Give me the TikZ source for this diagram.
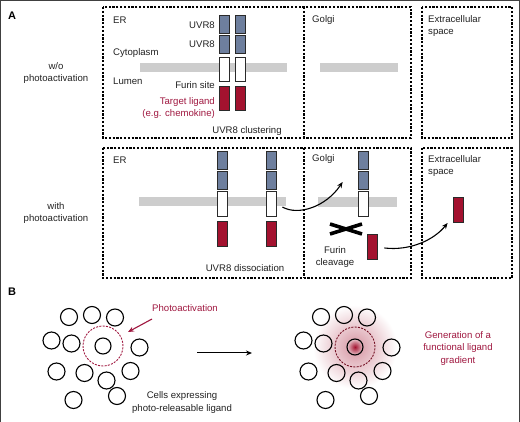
\documentclass[tikz,border=0pt]{standalone}
\usepackage{fontspec}
\setmainfont{Liberation Sans}
\usetikzlibrary{arrows.meta}
\definecolor{txtc}{HTML}{222222}
\definecolor{lred}{HTML}{A3122F}
\definecolor{tred}{HTML}{A01840}
\definecolor{ublue}{HTML}{6E7F9E}
\definecolor{mgray}{HTML}{CDCDCD}
\definecolor{edge}{HTML}{2A2A2A}
\tikzset{
  lbl/.style={font=\fontsize{9.6}{11.5}\selectfont, text=txtc, inner sep=0pt, align=center},
  rlbl/.style={lbl, text=tred},
  panel/.style={font=\fontsize{11}{12}\selectfont\bfseries, text=black, inner sep=0pt},
  dbox/.style={draw=black, line width=1.2pt, dash pattern=on 2.2pt off 1.6pt},
  memb/.style={fill=mgray, draw=none},
  blk/.style={draw=edge, line width=0.8pt, minimum width=10pt, inner sep=0pt},
  ublk/.style={blk, fill=ublue, minimum height=18pt},
  wblk/.style={blk, fill=white, minimum height=24pt},
  rblk/.style={blk, fill=lred, minimum height=24pt},
  arr/.style={draw=black, line width=1.1pt, -{Stealth[length=6pt,width=5pt]}},
  cell/.style={circle, draw=black, line width=1.1pt, minimum size=17pt, inner sep=0pt},
  ring/.style={circle, draw=tred, line width=0.9pt, dash pattern=on 2pt off 1.3pt, minimum size=40pt, inner sep=0pt},
}
\begin{document}
\begin{tikzpicture}[x=1pt,y=-1pt]
\useasboundingbox (0,0) rectangle (520,422);
\fill[white] (0,0) rectangle (520,422);
\draw[gray!50!black, line width=1pt] (0.5,422) -- (0.5,0.5) -- (519.5,0.5) -- (519.5,422);

% ---------- Panel A ----------
\node[panel] (pA) at (12,16) {A};

% boxes top row
\draw[dbox] (103,7) rectangle (411,138);
\draw[dbox] (304,7) -- (304,138);
\draw[dbox] (422,7) rectangle (512,138);
% boxes bottom row
\draw[dbox] (103,148) rectangle (411,278);
\draw[dbox] (304,148) -- (304,278);
\draw[dbox] (422,148) rectangle (512,278);

% row labels
\node[lbl] (wo) at (56,73) {w/o\\[1pt]photoactivation};
\node[lbl] (with) at (56,213) {with\\[1pt]photoactivation};

% membranes
\fill[memb] (140,63) rectangle (287,72);
\fill[memb] (320,63) rectangle (398,72);
\fill[memb] (139,197) rectangle (286,206);
\fill[memb] (318,197) rectangle (397,207);

% top row labels
\node[lbl, anchor=west] (er1) at (113,20) {ER};
\node[lbl, anchor=west] (cyt) at (113,53) {Cytoplasm};
\node[lbl, anchor=west] (lum) at (113,81) {Lumen};
\node[lbl, anchor=east] (u1) at (215,25) {UVR8};
\node[lbl, anchor=east] (u2) at (215,44) {UVR8};
\node[lbl, anchor=east] (fs) at (215,85) {Furin site};
\node[rlbl, anchor=east] (tl) at (215,102) {Target ligand};
\node[rlbl, anchor=east] (eg) at (215,114) {(e.g. chemokine)};
\node[lbl] (clu) at (247,131) {UVR8 clustering};
\node[lbl, anchor=west] (go1) at (312,20) {Golgi};
\node[lbl, anchor=west, align=left] (ex1) at (428,26) {Extracellular\\[1pt]space};

% top row blocks
\node[ublk] (t1u1) at (224,24) {};
\node[ublk] (t1u2) at (224,44) {};
\node[wblk] (t1w) at (224,69) {};
\node[rblk] (t1r) at (224,98) {};
\node[ublk] (t2u1) at (240,24) {};
\node[ublk] (t2u2) at (240,44) {};
\node[wblk] (t2w) at (240,69) {};
\node[rblk] (t2r) at (240,98) {};

% bottom row labels
\node[lbl, anchor=west] (er2) at (113,160) {ER};
\node[lbl] (dis) at (245,268) {UVR8 dissociation};
\node[lbl, anchor=west] (go2) at (312,159) {Golgi};
\node[lbl, anchor=west, align=left] (ex2) at (428,166) {Extracellular\\[1pt]space};
\node[lbl] (fc) at (335,257) {Furin\\[1pt]cleavage};

% bottom row blocks
\node[ublk] (b1u1) at (222,160) {};
\node[ublk] (b1u2) at (222,180) {};
\node[wblk, minimum height=25pt] (b1w) at (222,203.5) {};
\node[rblk, minimum height=25pt] (b1r) at (222,233.5) {};
\node[ublk] (b2u1) at (271,160) {};
\node[ublk] (b2u2) at (271,180) {};
\node[wblk, minimum height=25pt] (b2w) at (271,203.5) {};
\node[rblk, minimum height=25pt] (b2r) at (271,233.5) {};
\node[ublk] (gu1) at (363,160) {};
\node[ublk] (gu2) at (363,180) {};
\node[wblk, minimum height=25pt] (gw) at (363,203.5) {};
\node[rblk, minimum height=25pt] (gr) at (372,246.5) {};
\node[rblk, minimum height=25pt] (xr) at (458,209.5) {};

% cleavage cross
\draw[black, line width=3.6pt] (330,224) -- (362,234);
\draw[black, line width=3.6pt] (330,234) -- (362,224);

% arrows (y axis points down: negative yshift moves down)
\draw[arr] ([xshift=6pt,yshift=-3.5pt]b2w.east) .. controls (298,216) and (326,207) .. ([xshift=-15pt,yshift=-2pt]gu2.west);
\draw[arr] ([xshift=7pt,yshift=-1.5pt]gr.east) .. controls (410,251) and (434,240) .. ([xshift=-5pt,yshift=-13.5pt]xr.west);

% ---------- Panel B ----------
\node[panel] (pB) at (12,292) {B};

% right glow
\shade[inner color=lred!45, outer color=white] (355,347) circle (42);

\foreach \dx/\nm in {0/L,252/R}{
  \node[cell] (\nm c1) at (69+\dx,317) {};
  \node[cell] (\nm c2) at (92+\dx,315) {};
  \node[cell] (\nm c3) at (115+\dx,317.5) {};
  \node[cell] (\nm c4) at (51.5+\dx,340.5) {};
  \node[cell] (\nm c5) at (71.5+\dx,343.5) {};
  \node[cell] (\nm c7) at (139.5+\dx,347.5) {};
  \node[cell] (\nm c8) at (56.5+\dx,371.5) {};
  \node[cell] (\nm c9) at (84.5+\dx,373) {};
  \node[cell] (\nm c10) at (106.5+\dx,380.5) {};
  \node[cell] (\nm c11) at (130.5+\dx,371) {};
  \node[cell] (\nm c12) at (73.5+\dx,400) {};
  \node[cell] (\nm c13) at (117+\dx,396) {};
}
\node[cell, minimum size=16pt] (Lc6) at (103,346) {};
\node[ring] (Lring) at (103,346) {};
\shade[inner color=lred, outer color=lred!25] (355,347) circle (8);
\node[cell, minimum size=16pt] (Rc6) at (355,347) {};
\node[ring, draw=lred!70!black] (Rring) at (355,347) {};

\node[rlbl] (pact) at (185,308) {Photoactivation};
\draw[draw=tred, line width=1.1pt, -{Stealth[length=6pt,width=5pt]}] ([xshift=-33pt,yshift=-11pt]pact.center) -- ([xshift=25pt,yshift=14pt]Lring.center);
\node[lbl] (cells) at (182,402.5) {Cells expressing\\[1pt]photo-releasable ligand};
\coordinate (aS) at (197,353);
\coordinate (aE) at (252,353);
\draw[arr, line width=1pt] (aS) -- (aE);
\node[rlbl] (gen) at (458,348.5) {Generation of a\\[1pt]functional ligand\\[1pt]gradient};
\end{tikzpicture}
\end{document}
